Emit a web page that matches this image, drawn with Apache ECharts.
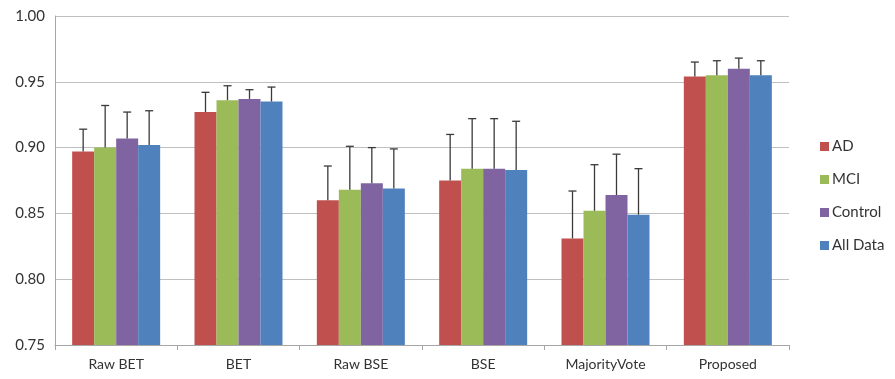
<!DOCTYPE html>
<html>
<head>
<meta charset="utf-8">
<script src="https://cdn.jsdelivr.net/npm/echarts@6/dist/echarts.min.js"></script>
<style>
  html, body { margin: 0; padding: 0; background: #fff; }
  #chart { width: 895px; height: 379px; }
</style>
</head>
<body>
<div id="chart"></div>
<script>
// Segmentation methods compared on each subject group
const categories = ['Raw BET', 'BET', 'Raw BSE', 'BSE', 'MajorityVote', 'Proposed'];
const seriesNames = ['AD', 'MCI', 'Control', 'All Data'];
const seriesColors = ['#C0504D', '#9BBB59', '#8064A2', '#4F81BD'];

// Mean scores per group
const adMean      = [0.897, 0.927, 0.860, 0.875, 0.831, 0.954];
const mciMean     = [0.900, 0.936, 0.868, 0.884, 0.852, 0.955];
const controlMean = [0.907, 0.937, 0.873, 0.884, 0.864, 0.960];
const allMean     = [0.902, 0.935, 0.869, 0.883, 0.849, 0.955];

// Standard deviations (drawn as upper error bars)
const adStd      = [0.017, 0.015, 0.026, 0.035, 0.036, 0.011];
const mciStd     = [0.032, 0.011, 0.033, 0.038, 0.035, 0.011];
const controlStd = [0.020, 0.007, 0.027, 0.038, 0.031, 0.008];
const allStd     = [0.026, 0.011, 0.030, 0.037, 0.035, 0.011];

const yTicks = [0.75, 0.80, 0.85, 0.90, 0.95, 1.00];

const means = [adMean, mciMean, controlMean, allMean];
const stds = [adStd, mciStd, controlStd, allStd];

const BAR_W = 22;
const FONT = 'Lato, "Open Sans", "Liberation Sans", sans-serif';

const series = [];
means.forEach((m, i) => {
  series.push({
    name: seriesNames[i],
    type: 'bar',
    data: m,
    barWidth: BAR_W,
    barGap: '0%',
    itemStyle: { color: seriesColors[i] },
    z: 2
  });
});
// Upper error bars with caps, placed over each bar
means.forEach((m, i) => {
  const offset = (i - (means.length - 1) / 2) * BAR_W;
  series.push({
    name: seriesNames[i] + ' err',
    type: 'custom',
    data: m.map((v, k) => [k, v, v + stds[i][k]]),
    encode: { x: 0, y: [1, 2] },
    z: 3,
    silent: true,
    renderItem: function (params, api) {
      const k = api.value(0);
      const lo = api.coord([k, api.value(1)]);
      const hi = api.coord([k, api.value(2)]);
      const x = lo[0] + offset;
      const cap = 4;
      const style = { stroke: '#3A3A3A', lineWidth: 1.3 };
      return {
        type: 'group',
        children: [
          { type: 'line', shape: { x1: x, y1: lo[1], x2: x, y2: hi[1] }, style: style },
          { type: 'line', shape: { x1: x - cap, y1: hi[1], x2: x + cap, y2: hi[1] }, style: style }
        ]
      };
    }
  });
});

const chart = echarts.init(document.getElementById('chart'), null, { renderer: 'canvas' });
chart.setOption({
  animation: false,
  backgroundColor: '#fff',
  grid: { left: 55, right: 106, top: 16, bottom: 34, containLabel: false },
  legend: {
    data: seriesNames,
    orient: 'vertical',
    left: 815,
    top: 134,
    itemWidth: 9,
    itemHeight: 9,
    itemGap: 18,
    icon: 'rect',
    textStyle: { fontFamily: FONT, fontSize: 15, color: '#333', padding: [0, 0, 0, -2] }
  },
  xAxis: {
    type: 'category',
    data: categories,
    axisLine: { lineStyle: { color: '#A6A6A6', width: 1 } },
    axisTick: { show: true, alignWithLabel: false, length: 5, lineStyle: { color: '#A6A6A6' } },
    axisLabel: { fontFamily: FONT, fontSize: 14, color: '#333', margin: 12 }
  },
  yAxis: {
    type: 'value',
    min: yTicks[0],
    max: yTicks[yTicks.length - 1],
    interval: 0.05,
    axisLine: { show: true, lineStyle: { color: '#A6A6A6', width: 1 } },
    axisTick: { show: false },
    splitLine: { lineStyle: { color: '#BFBFBF', width: 1 } },
    axisLabel: {
      fontFamily: FONT, fontSize: 15, color: '#333', margin: 10,
      formatter: v => v.toFixed(2)
    }
  },
  series: series
});
</script>
</body>
</html>
